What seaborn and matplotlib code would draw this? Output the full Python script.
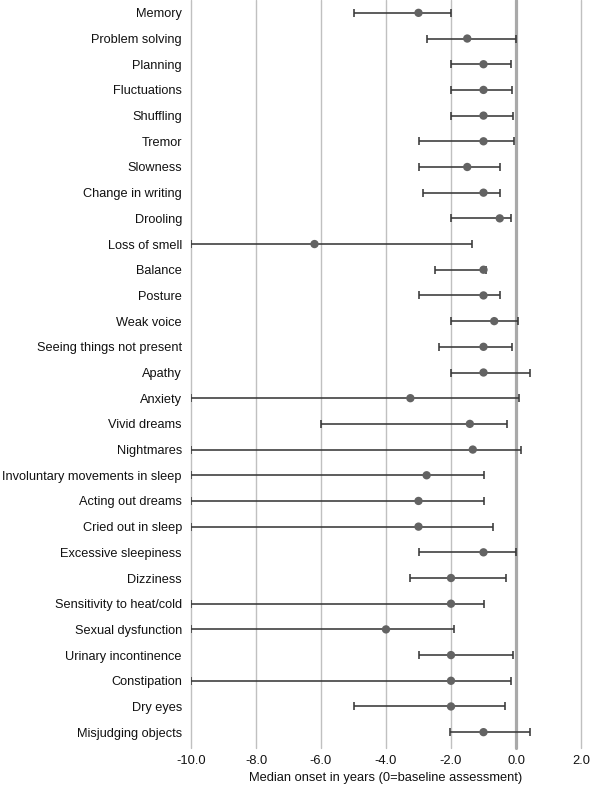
import numpy as np
import pandas as pd
import matplotlib
matplotlib.use("Agg")
import matplotlib.pyplot as plt
import seaborn as sns

# data
symptoms = ["Memory", "Problem solving", "Planning", "Fluctuations", "Shuffling",
            "Tremor", "Slowness", "Change in writing", "Drooling", "Loss of smell",
            "Balance", "Posture", "Weak voice", "Seeing things not present",
            "Apathy", "Anxiety", "Vivid dreams", "Nightmares",
            "Involuntary movements in sleep", "Acting out dreams",
            "Cried out in sleep", "Excessive sleepiness", "Dizziness",
            "Sensitivity to heat/cold", "Sexual dysfunction",
            "Urinary incontinence", "Constipation", "Dry eyes",
            "Misjudging objects"]
median = [-3.0, -1.5, -1.0, -1.0, -1.0, -1.0, -1.5, -1.0, -0.5, -6.2,
          -1.0, -1.0, -0.67, -1.0, -1.0, -3.25, -1.42, -1.33, -2.75, -3.0,
          -3.0, -1.0, -2.0, -2.0, -4.0, -2.0, -2.0, -2.0, -1.0]
lower = [-5.0, -2.75, -2.0, -2.0, -2.0, -3.0, -3.0, -2.87, -2.0, -10.0,
         -2.5, -3.0, -2.0, -2.37, -2.0, -10.0, -6.0, -10.0, -10.0, -10.0,
         -10.0, -3.0, -3.25, -10.0, -10.0, -3.0, -10.0, -5.0, -2.02]
upper = [-2.0, 0.0, -0.16, -0.13, -0.09, -0.06, -0.5, -0.5, -0.16, -1.36,
         -0.93, -0.5, 0.07, -0.12, 0.42, 0.1, -0.29, 0.14, -1.0, -1.0,
         -0.72, 0.0, -0.31, -1.0, -1.92, -0.08, -0.16, -0.33, 0.42]
xticks = [-10, -8, -6, -4, -2, 0, 2]

df = pd.DataFrame({"symptom": symptoms, "median": median,
                   "lower": lower, "upper": upper})
df["pos"] = np.arange(len(df))

sns.set_theme(style="white")
plt.rcParams["font.family"] = ["Liberation Sans", "DejaVu Sans"]

fig = plt.figure(figsize=(6.14, 7.88), dpi=100)
ax = fig.add_axes([191 / 614, 1 - 745 / 788, 390 / 614, 745 / 788])

# grid lines (run a little below the axis like tick marks)
for t in xticks:
    if t == 0:
        ax.axvline(t, ymin=-0.004, ymax=1, color="#a9a9a9", lw=2.3,
                   zorder=1, clip_on=False)
    else:
        ax.axvline(t, ymin=-0.004, ymax=1, color="#c0c0c0", lw=1.0,
                   zorder=1, clip_on=False)

ax.errorbar(df["median"], df["pos"],
            xerr=[df["median"] - df["lower"], df["upper"] - df["median"]],
            fmt="none", ecolor="#383838", elinewidth=1.15, capsize=2.6,
            capthick=1.15, zorder=2)
sns.scatterplot(data=df, x="median", y="pos", color="#636363", s=36,
                edgecolor="none", zorder=3, ax=ax)

ax.set_xlim(-10, 2)
ax.set_ylim(len(df) - 0.5, -0.5)
ax.set_xticks(xticks)
ax.set_xticklabels([f"{t:.1f}" for t in xticks])
ax.set_yticks(df["pos"])
ax.set_yticklabels(df["symptom"])
ax.tick_params(axis="y", length=0, pad=6.5, labelsize=9.2, colors="#111111")
ax.tick_params(axis="x", length=0, pad=7, labelsize=9.3, colors="#111111")
ax.set_xlabel("Median onset in years (0=baseline assessment)", fontsize=9.3,
              color="#111111", labelpad=4)
ax.set_ylabel("")
for s in ax.spines.values():
    s.set_visible(False)

fig.savefig("out.png", dpi=100)
